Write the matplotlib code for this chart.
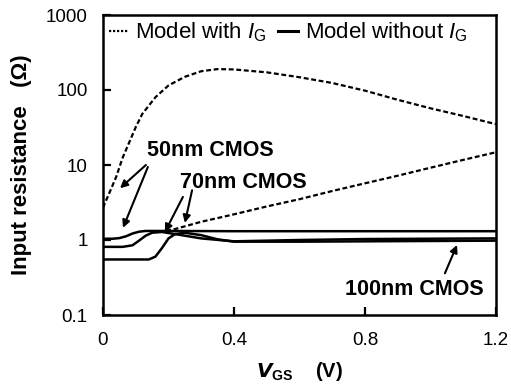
import matplotlib
matplotlib.use("Agg")
import matplotlib.pyplot as plt
from matplotlib.lines import Line2D

plt.rcParams["font.family"] = ["Liberation Sans", "DejaVu Sans"]
plt.rcParams["mathtext.fontset"] = "custom"
plt.rcParams["mathtext.rm"] = "Liberation Sans"
plt.rcParams["mathtext.it"] = "Liberation Sans:italic"
plt.rcParams["mathtext.bf"] = "Liberation Sans:bold"

# 50nm CMOS, model with I_G (upper dashed curve)
vgs_50_ig = [0.0, 0.02, 0.04, 0.06, 0.08, 0.10, 0.12, 0.16, 0.20, 0.25, 0.30,
             0.35, 0.40, 0.50, 0.60, 0.70, 0.80, 0.90, 1.00, 1.10, 1.20]
rin_50_ig = [2.7, 4.3, 6.9, 12.5, 20, 32, 48, 80, 115, 150, 178,
             190, 188, 172, 148, 124, 98, 74, 57, 45, 35]

# 70nm CMOS, model with I_G (lower dashed curve)
vgs_70_ig = [0.17, 0.22, 0.30, 0.40, 0.50, 0.60, 0.70, 0.80, 0.90, 1.00, 1.10, 1.20]
rin_70_ig = [1.28, 1.40, 1.75, 2.2, 2.8, 3.5, 4.5, 5.7, 7.2, 9.2, 11.7, 14.8]

# models without I_G (solid curves)
vgs_50 = [0.0, 0.03, 0.05, 0.07, 0.09, 0.11, 0.13, 0.20, 0.40, 0.60, 0.80, 1.00, 1.20]
rin_50 = [1.04, 1.04, 1.06, 1.12, 1.22, 1.29, 1.32, 1.32, 1.31, 1.31, 1.31, 1.31, 1.31]

vgs_70 = [0.0, 0.06, 0.09, 0.11, 0.13, 0.15, 0.18, 0.22, 0.30, 0.40, 0.60, 0.80, 1.00, 1.20]
rin_70 = [0.81, 0.81, 0.85, 0.98, 1.14, 1.25, 1.28, 1.20, 1.05, 0.96, 1.0, 1.03, 1.04, 1.05]

vgs_100 = [0.0, 0.14, 0.16, 0.18, 0.20, 0.22, 0.25, 0.30, 0.35, 0.40, 0.60, 0.80, 1.00, 1.20]
rin_100 = [0.55, 0.55, 0.60, 0.78, 1.05, 1.20, 1.25, 1.16, 1.02, 0.95, 0.95, 0.96, 0.97, 0.98]

fig = plt.figure(figsize=(5.11, 3.9), dpi=100)
ax = fig.add_axes([103 / 511, 1 - 315 / 390, 393 / 511, 300 / 390])

dash = (0, (2.2, 1.2))
ax.plot(vgs_50_ig, rin_50_ig, color="black", lw=1.6, linestyle=dash)
ax.plot(vgs_70_ig, rin_70_ig, color="black", lw=1.6, linestyle=dash)
for x, y in [(vgs_50, rin_50), (vgs_70, rin_70), (vgs_100, rin_100)]:
    ax.plot(x, y, color="black", lw=1.8)

ax.set_yscale("log")
ax.set_xlim(0, 1.2)
ax.set_ylim(0.1, 1000)
ax.set_yticks([0.1, 1, 10, 100, 1000])
ax.set_yticklabels(["0.1", "1", "10", "100", "1000"])
ax.set_xticks([0, 0.4, 0.8, 1.2])
ax.set_xticklabels(["0", "0.4", "0.8", "1.2"])
ax.minorticks_off()
ax.tick_params(direction="in", length=6, width=1.6, labelsize=13.5)
ax.tick_params(axis="x", pad=12)
ax.tick_params(axis="y", pad=11)
for s in ax.spines.values():
    s.set_linewidth(1.8)

ax.set_xlabel(r"$\mathbfit{V}_{\mathbf{GS}}$    (V)", fontsize=14.5,
              fontweight="bold", labelpad=8)
ax.set_ylabel("Input resistance   (\u03a9)", fontsize=16, fontweight="bold",
              labelpad=10)

handles = [Line2D([], [], color="black", lw=1.6, linestyle=(0, (1, 0.8))),
           Line2D([], [], color="black", lw=2.2)]
ax.legend(handles, [r"Model with $\mathit{I}_{\rm G}$",
                    r"Model without $\mathit{I}_{\rm G}$"],
          loc="upper left", ncol=2, frameon=False, fontsize=16,
          handlelength=0.9, handletextpad=0.3, columnspacing=0.5,
          borderaxespad=0.05, borderpad=0.2)

arrow = dict(arrowstyle="-|>", color="black", lw=1.5, mutation_scale=11,
             shrinkA=0, shrinkB=0)
ax.annotate("", xy=(0.052, 4.9), xytext=(0.131, 10), arrowprops=arrow)
ax.annotate("", xy=(0.061, 1.45), xytext=(0.137, 9.4), arrowprops=arrow)
ax.annotate("", xy=(0.189, 1.28), xytext=(0.244, 3.75), arrowprops=arrow)
ax.annotate("", xy=(0.250, 1.69), xytext=(0.272, 4.6), arrowprops=arrow)
ax.annotate("", xy=(1.081, 0.86), xytext=(1.044, 0.36), arrowprops=arrow)

ax.text(0.134, 15.4, "50nm CMOS", fontsize=15.5, fontweight="bold", va="center")
ax.text(0.235, 5.9, "70nm CMOS", fontsize=15.5, fontweight="bold", va="center")
ax.text(0.739, 0.222, "100nm CMOS", fontsize=15.5, fontweight="bold", va="center")

fig.savefig("out.png", dpi=100)
